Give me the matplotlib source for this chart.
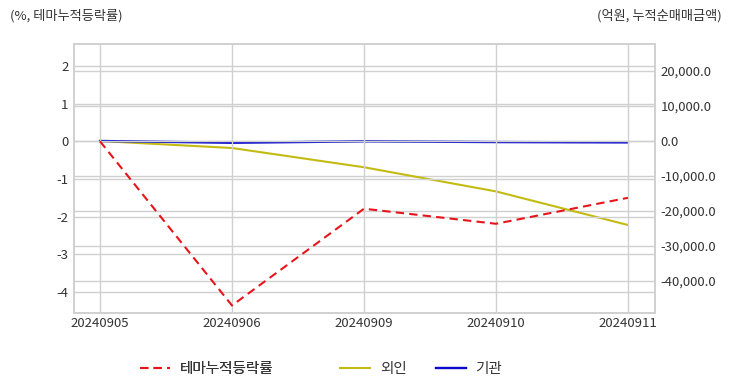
import matplotlib
matplotlib.use("Agg")
import matplotlib.pyplot as plt
from matplotlib.ticker import FuncFormatter

plt.rcParams['font.family'] = ['Noto Sans CJK KR', 'DejaVu Sans']
plt.rcParams['axes.unicode_minus'] = False

dates = ['20240905', '20240906', '20240909', '20240910', '20240911']
theme_rate = [0.0, -4.36, -1.79, -2.19, -1.50]
foreign = [0.0, -2000.0, -7500.0, -14400.0, -24000.0]
institution = [0.0, -500.0, -100.0, -300.0, -400.0]

grid_col = '#d0d0d0'
txt_col = '#333333'

fig = plt.figure(figsize=(7.32, 3.92), dpi=100)
ax = fig.add_axes([74 / 732, 1 - 313 / 392, (655 - 74) / 732, (313 - 44) / 392])
ax2 = ax.twinx()

x = list(range(len(dates)))
l1, = ax.plot(x, theme_rate, color='#e8141b', linestyle='--', linewidth=1.5,
              dashes=(4, 2.5), label='테마누적등락률')
l2, = ax2.plot(x, foreign, color='#c4bb12', linewidth=1.5, label='외인')
l3, = ax2.plot(x, institution, color='#0a0acc', linewidth=1.7, label='기관')
ax.set_zorder(ax2.get_zorder() + 1)
ax.patch.set_visible(False)

ax.set_xlim(-0.197, 4.205)
ax.set_xticks(x)
ax.set_xticklabels(dates)
ax.set_ylim(-4.56, 2.585)
ax.set_yticks([2, 1, 0, -1, -2, -3, -4])
ax2.set_ylim(-49143, 27714)
ax2.set_yticks([20000, 10000, 0, -10000, -20000, -30000, -40000])
ax2.yaxis.set_major_formatter(FuncFormatter(lambda v, p: f'{v:,.1f}'))

ax.grid(True, color=grid_col, linewidth=1)
ax2.grid(True, axis='y', color=grid_col, linewidth=1)
ax.set_axisbelow(True)
ax2.set_axisbelow(True)

for a in (ax, ax2):
    for s in a.spines.values():
        s.set_color(grid_col)
        s.set_linewidth(1.2)
    a.tick_params(length=0, labelsize=9.5, colors=txt_col, pad=4)
ax.tick_params(axis='x', pad=3)

fig.text(10 / 732, 1 - 16 / 392, '(%, 테마누적등락률)', fontsize=9.5,
         color=txt_col, va='center', ha='left')
fig.text(722 / 732, 1 - 16 / 392, '(억원, 누적순매매금액)', fontsize=9.5,
         color=txt_col, va='center', ha='right')

leg_kw = dict(loc='center left', frameon=False, fontsize=10.5, handlelength=2.05,
              handletextpad=0.68, borderpad=0, borderaxespad=0, labelcolor=txt_col)
leg1 = fig.legend(handles=[l1], bbox_to_anchor=(140 / 732, 1 - 369 / 392), **leg_kw)
fig.legend(handles=[l2, l3], bbox_to_anchor=(340 / 732, 1 - 369 / 392), ncol=2,
           columnspacing=2.0, **leg_kw)
fig.add_artist(leg1)

fig.savefig('out.png', dpi=100)
